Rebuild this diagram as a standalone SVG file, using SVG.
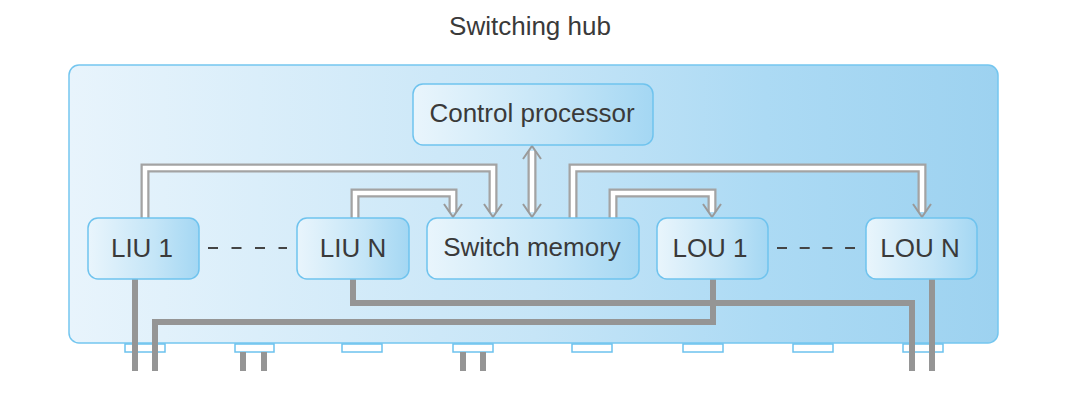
<svg xmlns="http://www.w3.org/2000/svg" width="1072" height="404" viewBox="0 0 1072 404">
<defs>
<linearGradient id="hubGrad" x1="0" y1="0" x2="1" y2="0">
<stop offset="0" stop-color="#e8f4fc"/>
<stop offset="0.5" stop-color="#c6e5f7"/>
<stop offset="0.75" stop-color="#acdaf4"/>
<stop offset="1" stop-color="#9dd2f0"/>
</linearGradient>
<linearGradient id="nodeGrad" x1="0" y1="0" x2="1" y2="0">
<stop offset="0" stop-color="#e9f5fc"/>
<stop offset="0.6" stop-color="#c4e5f7"/>
<stop offset="1" stop-color="#a4d7f3"/>
</linearGradient>
<marker id="chev" markerUnits="userSpaceOnUse" markerWidth="24" markerHeight="20" viewBox="-12 -16 24 20" refX="0" refY="0" orient="auto-start-reverse">
<path d="M-9,-13 L0,0 L9,-13" fill="none" stroke="#9a9a9a" stroke-width="2"/>
</marker>
<marker id="chevR" markerUnits="userSpaceOnUse" markerWidth="24" markerHeight="20" viewBox="-12 -16 24 20" refX="0" refY="0" orient="auto">
<path d="M-13,-9 L0,0 L-13,9" fill="none" stroke="#9a9a9a" stroke-width="2"/>
</marker>
</defs>
<style>
.hub{fill:url(#hubGrad);stroke:#74c6ef;stroke-width:1.5}
.node rect{fill:url(#nodeGrad);stroke:#6fc3ee;stroke-width:1.5}
.lbl{font-family:"Liberation Sans",Arial,sans-serif;font-size:26px;fill:#3a3a3a;text-anchor:middle}
.port{fill:#ffffff;stroke:#6cc2ee;stroke-width:1.5}
.wire{fill:none;stroke:#959595;stroke-width:6}
.pipeO{fill:none;stroke:#a3a3a3;stroke-width:9;stroke-linejoin:miter}
.pipeI{fill:none;stroke:#ffffff;stroke-width:4.5;stroke-linejoin:miter}
.dash{stroke:#444;stroke-width:2}
</style>
<text class="lbl" x="530" y="35" font-size="25">Switching hub</text>
<rect class="hub" x="69" y="65" width="929" height="278" rx="10"/>
<g id="ports">
<rect class="port" x="125" y="344" width="40" height="8"/>
<rect class="port" x="235" y="344" width="39" height="8"/>
<rect class="port" x="342" y="344" width="40" height="8"/>
<rect class="port" x="453" y="344" width="40" height="8"/>
<rect class="port" x="572" y="344" width="40" height="8"/>
<rect class="port" x="683" y="344" width="40" height="8"/>
<rect class="port" x="793" y="344" width="40" height="8"/>
<rect class="port" x="903" y="344" width="40" height="8"/>
</g>
<g id="connectors">
<path class="wire" d="M135,279 V371"/>
<path class="wire" d="M713,279 V322 H155 V371"/>
<path class="wire" d="M353,279 V303 H912 V371"/>
<path class="wire" d="M932,279 V371"/>
<path class="wire" d="M243,352 V371 M264,352 V371"/>
<path class="wire" d="M463,352 V371 M483,352 V371"/>
<line class="dash" x1="208" y1="248" x2="287" y2="248" stroke-dasharray="10 13.5"/>
<line class="dash" x1="777" y1="248" x2="855" y2="248" stroke-dasharray="10 12.7"/>
<path class="pipeO" d="M145,218 V168 H493 V212"/>
<path class="pipeI" d="M145,218 V168 H493 V212"/>
<path class="pipeO" d="M355,218 V193 H453 V212"/>
<path class="pipeI" d="M355,218 V193 H453 V212"/>
<path class="pipeO" d="M573,218 V168 H922 V212"/>
<path class="pipeI" d="M573,218 V168 H922 V212"/>
<path class="pipeO" d="M613,218 V193 H712 V212"/>
<path class="pipeI" d="M613,218 V193 H712 V212"/>
<path class="pipeO" d="M532,151 V212"/>
<path class="pipeI" d="M532,151 V212"/>
<path d="M484,204 L493,217 L502,204" fill="none" stroke="#9a9a9a" stroke-width="2"/>
<path d="M444,204 L453,217 L462,204" fill="none" stroke="#9a9a9a" stroke-width="2"/>
<path d="M913,204 L922,217 L931,204" fill="none" stroke="#9a9a9a" stroke-width="2"/>
<path d="M703,204 L712,217 L721,204" fill="none" stroke="#9a9a9a" stroke-width="2"/>
<path d="M523,204 L532,217 L541,204" fill="none" stroke="#9a9a9a" stroke-width="2"/>
<path d="M523,159 L532,146 L541,159" fill="none" stroke="#9a9a9a" stroke-width="2"/>
</g>
<g id="control" class="node">
<rect x="413" y="84" width="240" height="61" rx="10"/>
<text class="lbl" x="532" y="122">Control processor</text>
</g>
<g id="liu1" class="node">
<rect x="88" y="218" width="111" height="61" rx="10"/>
<text class="lbl" x="142" y="257">LIU 1</text>
</g>
<g id="liun" class="node">
<rect x="297" y="218" width="112" height="61" rx="10"/>
<text class="lbl" x="353" y="257">LIU N</text>
</g>
<g id="switchmem" class="node">
<rect x="427" y="218" width="212" height="61" rx="10"/>
<text class="lbl" x="532" y="256">Switch memory</text>
</g>
<g id="lou1" class="node">
<rect x="657" y="218" width="111" height="61" rx="10"/>
<text class="lbl" x="710" y="257">LOU 1</text>
</g>
<g id="loun" class="node">
<rect x="866" y="218" width="111" height="61" rx="10"/>
<text class="lbl" x="920" y="257">LOU N</text>
</g>
</svg>
